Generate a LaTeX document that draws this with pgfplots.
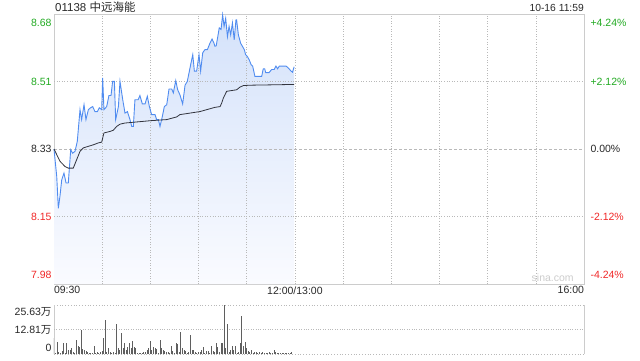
\documentclass[border=0pt]{standalone}
\usepackage{pgfplots}
\pgfplotsset{compat=1.18}
\usepackage{pgfplotstable}
\usepackage{fontspec}
\setmainfont{Liberation Sans}
\newfontfamily\cjk{Noto Sans CJK SC}
\definecolor{upg}{RGB}{34,170,34}
\definecolor{dnr}{RGB}{240,40,40}
\definecolor{bord}{RGB}{204,204,204}
\definecolor{gridc}{RGB}{185,185,185}
\definecolor{pline}{RGB}{80,140,240}
\definecolor{avgl}{RGB}{50,52,62}
\definecolor{txt}{RGB}{40,40,40}
\definecolor{fillt}{RGB}{212,226,250}
\definecolor{fillb}{RGB}{250,251,255}
\definecolor{volc}{RGB}{95,95,95}

\pgfplotstableread{
m p
0 8.33
1.7 8.258
2.7 8.175
3.7 8.206
4.8 8.249
6.2 8.267
7.5 8.241
8.9 8.241
10.4 8.328
11.6 8.319
13.1 8.324
14.5 8.35
16.2 8.433
17.2 8.407
18.7 8.446
19.9 8.407
21.4 8.433
22.8 8.438
24.1 8.441
25.5 8.428
27 8.428
28.2 8.438
29.7 8.433
30.3 8.516
31.1 8.433
32.8 8.441
34.2 8.47
35.5 8.47
36.5 8.507
37.6 8.507
38.4 8.407
40.1 8.441
41.1 8.507
42.8 8.459
44.2 8.424
45.7 8.428
47.3 8.407
48.4 8.389
49.4 8.389
50.4 8.459
52.4 8.459
53.5 8.47
55 8.448
56.7 8.448
58.1 8.468
59.4 8.441
60.8 8.42
62.9 8.42
63.9 8.407
65 8.407
66 8.389
67.5 8.416
68.7 8.441
70.2 8.446
71.6 8.487
73.3 8.487
74.3 8.477
75.8 8.509
77 8.485
78.4 8.472
80.1 8.448
81.6 8.497
83 8.507
84.3 8.534
85.3 8.555
86.4 8.577
87.4 8.534
88.8 8.534
90.3 8.577
91.3 8.534
92.6 8.582
94 8.59
95.5 8.59
97.1 8.607
98.4 8.618
99.6 8.607
100.2 8.599
101 8.6
102.9 8.647
104 8.643
105 8.681
105.9 8.651
106.9 8.672
108 8.624
109 8.651
110 8.629
111.1 8.66
112.2 8.616
113.3 8.668
113.7 8.668
114.8 8.629
116.2 8.607
117.3 8.599
118.5 8.59
119.3 8.577
120.4 8.572
121.6 8.563
122.7 8.551
123.7 8.547
125.1 8.52
126.2 8.52
128.2 8.52
129.3 8.52
130.3 8.54
131.2 8.54
131.8 8.53
133.9 8.53
135.5 8.538
137.1 8.538
138.2 8.547
139.2 8.54
140.3 8.547
142.8 8.547
144.5 8.547
145.9 8.542
147.6 8.534
148.5 8.531
149.5 8.545
}\price

\pgfplotstableread{
m a
0 8.33
3.7 8.298
6.9 8.284
8.9 8.28
12 8.28
14.1 8.302
16.2 8.324
18.3 8.333
21.4 8.337
24.5 8.341
27.6 8.346
29.7 8.348
31.1 8.372
34.9 8.376
36.9 8.379
39 8.389
41.1 8.395
44.2 8.398
49.4 8.4
59.8 8.404
70.2 8.407
76.4 8.414
78.4 8.42
84.7 8.424
90.9 8.428
95.1 8.433
100.2 8.439
103.4 8.441
104.4 8.45
105.4 8.463
107.5 8.481
110.6 8.483
113.7 8.485
115.8 8.492
117.9 8.496
122 8.497
136.6 8.498
149.5 8.499
}\avgp

\pgfplotstableread{
m v
0 8.5
1 0.6
2 6.5
3 1.2
4 0.5
5 1.6
6 5.6
7 0.6
8 5.9
9 2.1
10 2.1
11 3.0
12 1.2
13 0.5
14 7.3
15 4.4
16 3.8
17 12.6
18 2.6
19 2.1
20 1.7
21 1.2
22 0.7
23 0.4
24 0.5
25 4.2
26 0.6
27 1.2
28 0.5
29 1.2
30 1.6
31 8.2
32 17.8
33 1.2
34 3.0
35 1.2
36 0.6
37 1.2
38 0.5
39 15.7
40 3.0
41 2.1
42 10.8
43 3.0
44 5.6
45 2.1
46 3.8
47 5.6
48 3.0
49 6.8
50 3.8
51 3.0
52 0.7
53 0.4
54 0.35
55 0.7
56 1.2
57 1.2
58 2.1
59 3.0
60 6.8
61 2.1
62 3.8
63 3.0
64 2.4
65 0.6
66 7.3
67 3.0
68 2.1
69 1.6
70 1.2
71 1.2
72 0.5
73 4.2
74 1.7
75 0.6
76 5.6
77 5.1
78 0.8
79 11.3
80 3.0
81 2.1
82 1.7
83 0.6
84 1.2
85 9.9
86 2.1
87 2.1
88 1.2
89 0.6
90 1.2
91 1.2
92 2.1
93 3.8
94 0.6
95 1.7
96 1.6
97 0.7
98 4.2
99 1.6
100 0.8
101 5.9
102 3.8
103 0.9
104 5.9
105 5.9
106 25.6
107 3.0
108 15.5
109 0.8
110 2.1
111 4.2
112 2.1
113 4.2
114 0.6
115 1.2
116 5.9
117 19.9
118 4.2
119 6.5
120 3.0
121 1.7
122 1.2
123 2.1
124 0.6
125 1.2
126 1.2
127 0.5
128 0.9
129 0.5
130 1.2
131 0.5
132 0.7
133 0.5
134 1.2
135 0.5
136 0.6
137 2.1
138 1.2
139 0.7
140 0.5
141 0.7
142 0.5
143 0.7
144 0.5
145 0.7
146 0.5
147 0.7
148 1.2
}\vol

\begin{document}
\begin{tikzpicture}
\useasboundingbox (0pt,0pt) rectangle (640pt,-360pt);
\node[anchor=west,inner sep=0,text=txt,font=\fontsize{11.5}{13}\selectfont] at (55pt,-7.5pt) {01138 {\cjk 中远海能}};
\node[anchor=east,inner sep=0,text=txt,font=\fontsize{10.3}{12}\selectfont] at (584pt,-8pt) {10-16 11:59};

\begin{axis}[
  at={(54pt,-14pt)}, anchor=north west,
  scale only axis, width=530pt, height=270pt,
  xmin=0, xmax=330, ymin=7.9767, ymax=8.6833,
  axis line style={bord, line width=0.8pt},
  xtick={0,150,330},
  xticklabels={\makebox[0pt][l]{09:30}, 12:00/13:00, \makebox[0pt][r]{16:00}},
  ytick={7.9997,8.1533,8.33,8.5066,8.6603},
  yticklabels={\textcolor{dnr}{7.98},\textcolor{dnr}{8.15},\textcolor{txt}{8.33},\textcolor{upg}{8.51},\textcolor{upg}{8.68}},
  major tick length=0pt,
  tick label style={font=\fontsize{10.5}{12}\selectfont, text=txt},
  xticklabel style={yshift=1pt},
  yticklabel style={xshift=1pt},
  /pgf/number format/assume math mode=true,
  clip=false,
]
\addplot[draw=none, top color=fillt, bottom color=fillb] table[x=m,y=p] {\price} \closedcycle;
\pgfplotsinvokeforeach{30,60,90,120,150,180,210,240,270,300}{
  \addplot[gridc, dotted, line width=0.6pt] coordinates {(#1,7.9767) (#1,8.6833)};
}
\addplot[gridc, dotted, line width=0.6pt] coordinates {(0,8.1533) (330,8.1533)};
\addplot[gridc, dotted, line width=0.6pt] coordinates {(0,8.5066) (330,8.5066)};
\addplot[gridc, line width=0.6pt, dash pattern=on 3pt off 2pt] coordinates {(0,8.33) (330,8.33)};
\addplot[pline, line width=0.9pt] table[x=m,y=p] {\price};
\addplot[avgl, line width=0.8pt] table[x=m,y=a] {\avgp};
\node[text=bord, font=\fontsize{10.5}{12}\selectfont] at (axis cs:310.5,7.993) {sina.com};
\end{axis}

\begin{axis}[
  at={(54pt,-14pt)}, anchor=north west,
  scale only axis, width=530pt, height=270pt,
  xmin=0, xmax=330, ymin=7.9767, ymax=8.6833,
  hide x axis,
  axis y line*=right,
  y axis line style={draw=none},
  ytick={7.9997,8.1533,8.33,8.5066,8.6603},
  yticklabels={\textcolor{dnr}{-4.24\%},\textcolor{dnr}{-2.12\%},\textcolor{txt}{0.00\%},\textcolor{upg}{+2.12\%},\textcolor{upg}{+4.24\%}},
  major tick length=0pt,
  yticklabel style={font=\fontsize{10.5}{12}\selectfont, anchor=west, xshift=3pt},
]
\addplot[draw=none] coordinates {(0,8.33)};
\end{axis}

\begin{axis}[
  at={(54pt,-305pt)}, anchor=north west,
  scale only axis, width=530pt, height=49pt,
  xmin=0, xmax=330, ymin=0, ymax=25.63,
  separate axis lines,
  x axis line style={gridc, dotted, line width=0.8pt},
  y axis line style={bord, line width=0.8pt},
  xtick=\empty,
  ytick={3.1,12.81,22.0},
  yticklabels={0,12.81{\cjk 万},25.63{\cjk 万}},
  extra y ticks={12.81},
  extra y tick labels={},
  extra y tick style={ymajorgrids, grid style={gridc, dotted, line width=0.8pt}},
  major tick length=0pt,
  tick label style={font=\fontsize{10.5}{12}\selectfont, text=txt},
  yticklabel style={xshift=1pt},
  /pgf/number format/assume math mode=true,
]
\addplot[ycomb, volc, line width=1pt] table[x=m,y=v] {\vol};
\end{axis}
\end{tikzpicture}
\end{document}
